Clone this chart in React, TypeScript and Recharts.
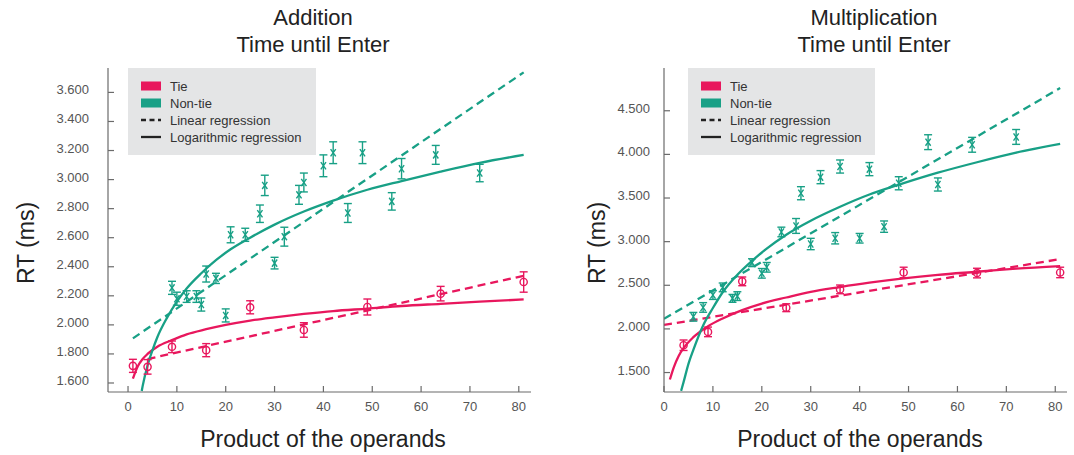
import React from "react";
import { ComposedChart, Line, Scatter, XAxis, YAxis, ErrorBar } from "recharts";

const RED = "#e8175d";
const GREEN = "#18a086";
const AXIS = "#6b6b6b";
const FONT = '"Liberation Sans", Arial, sans-serif';

// ---- Addition: Time until Enter ----
const addTieX = [1, 4, 9, 16, 25, 36, 49, 64, 81];
const addTieRT = [1718, 1711, 1849, 1826, 2121, 1965, 2123, 2215, 2295];
const addTieErr = [45, 50, 40, 45, 45, 50, 55, 50, 70];

const addNonTieX = [9, 10, 12, 14, 15, 16, 18, 20, 21, 24, 27, 28, 30, 32, 35, 36, 40, 42, 45, 48, 54, 56, 63, 72];
const addNonTieRT = [2255, 2180, 2195, 2195, 2140, 2350, 2320, 2065, 2620, 2620, 2765, 2960, 2425, 2607, 2895, 2980, 3095, 3185, 2770, 3185, 2850, 3075, 3170, 3045];
const addNonTieErr = [45, 45, 40, 40, 45, 55, 35, 45, 55, 45, 60, 70, 40, 65, 65, 65, 75, 75, 65, 75, 60, 70, 65, 60];

const addTieLinX = [4, 81];
const addTieLinY = [1765, 2338];
const addNonTieLinX = [1, 81];
const addNonTieLinY = [1907, 3738];

const addTieLogX = [1, 2, 3, 4, 6, 9, 12, 16, 20, 25, 30, 36, 42, 49, 56, 64, 72, 81];
const addTieLogY = [1630, 1715, 1765, 1800, 1850, 1895, 1935, 1970, 2000, 2030, 2052, 2075, 2095, 2112, 2130, 2145, 2160, 2175];
const addNonTieLogX = [2.8, 3, 4, 5, 6, 8, 10, 12, 15, 18, 21, 25, 30, 36, 42, 49, 56, 64, 72, 81];
const addNonTieLogY = [1545, 1580, 1720, 1825, 1915, 2050, 2160, 2250, 2355, 2445, 2520, 2600, 2690, 2780, 2855, 2930, 2990, 3055, 3115, 3170];

const addYTicks = [1600, 1800, 2000, 2200, 2400, 2600, 2800, 3000, 3200, 3400, 3600];

// ---- Multiplication: Time until Enter ----
const mulTieX = [4, 9, 16, 25, 36, 49, 64, 81];
const mulTieRT = [1813, 1966, 2545, 2243, 2453, 2647, 2640, 2647];
const mulTieErr = [60, 55, 50, 45, 50, 60, 55, 60];

const mulNonTieX = [6, 8, 10, 12, 14, 15, 18, 20, 21, 24, 27, 28, 30, 32, 35, 36, 40, 42, 45, 48, 54, 56, 63, 72];
const mulNonTieRT = [2139, 2246, 2388, 2476, 2350, 2376, 2759, 2637, 2706, 3111, 3180, 3555, 2973, 3739, 3039, 3861, 3039, 3831, 3172, 3669, 4140, 3655, 4110, 4200];
const mulNonTieErr = [50, 55, 50, 50, 45, 50, 45, 55, 55, 55, 85, 75, 65, 75, 65, 75, 55, 75, 65, 75, 85, 75, 85, 85];

const mulTieLinX = [0, 81];
const mulTieLinY = [2045, 2800];
const mulNonTieLinX = [0, 81];
const mulNonTieLinY = [2115, 4760];

const mulTieLogX = [1.2, 2, 3, 4, 6, 9, 12, 16, 20, 25, 30, 36, 42, 49, 56, 64, 72, 81];
const mulTieLogY = [1420, 1560, 1690, 1780, 1905, 2030, 2120, 2215, 2290, 2360, 2425, 2480, 2530, 2580, 2620, 2655, 2690, 2720];
const mulNonTieLogX = [3.5, 4, 5, 6, 8, 10, 12, 15, 18, 21, 25, 30, 36, 42, 49, 56, 64, 72, 81];
const mulNonTieLogY = [1290, 1390, 1600, 1760, 2040, 2240, 2420, 2620, 2780, 2920, 3080, 3240, 3400, 3540, 3670, 3790, 3910, 4020, 4120];

const mulYTicks = [1500, 2000, 2500, 3000, 3500, 4000, 4500];

const xTicks = [0, 10, 20, 30, 40, 50, 60, 70, 80];
const legendItems = ["Tie", "Non-tie", "Linear regression", "Logarithmic regression"];

type Pt = { x: number; y: number; err?: number };

const toPts = (xs: number[], ys: number[], errs?: number[]): Pt[] =>
  xs.map((x, i) => ({ x, y: ys[i], err: errs ? errs[i] : undefined }));

const fmt = (v: number) => String(v).replace(/\B(?=(\d{3})+(?!\d))/g, ".");

const circleShape = (props: any) => (
  <circle cx={props.cx} cy={props.cy} r={3.6} fill="none" stroke={RED} strokeWidth={1.4} />
);

const crossShape = (props: any) => {
  const { cx, cy } = props;
  return (
    <path
      d={`M${cx - 2.6},${cy - 3.6}L${cx + 2.6},${cy + 3.6}M${cx + 2.6},${cy - 3.6}L${cx - 2.6},${cy + 3.6}`}
      stroke={GREEN}
      strokeWidth={1.4}
      fill="none"
    />
  );
};

interface PanelProps {
  left: number;
  width: number;
  plotLeft: number;
  plotRight: number;
  xDomain: [number, number];
  yDomain: [number, number];
  yTicks: number[];
  labelGap: number;
  title: string;
  titleX: number;
  xLabelX: number;
  yLabelX: number;
  legendX: number;
  legendW: number;
  tie: Pt[];
  nonTie: Pt[];
  tieLin: Pt[];
  nonTieLin: Pt[];
  tieLog: Pt[];
  nonTieLog: Pt[];
}

function Panel(p: PanelProps) {
  const xTick = (props: any) => {
    const { x, y, payload } = props;
    return (
      <g>
        <line x1={x} y1={y} x2={x} y2={y - 6} stroke={AXIS} strokeWidth={1.2} />
        <text x={x} y={y + 19} textAnchor="middle" fontSize={13} fill="#555" fontFamily={FONT}>
          {payload.value}
        </text>
      </g>
    );
  };

  const yTick = (props: any) => {
    const { x, y, payload } = props;
    return (
      <g>
        <line x1={x} y1={y} x2={x + 6} y2={y} stroke={AXIS} strokeWidth={1.2} />
        <text x={x - p.labelGap} y={y + 2} textAnchor="end" fontSize={13} fill="#555" fontFamily={FONT}>
          {fmt(payload.value)}
        </text>
      </g>
    );
  };

  const rowY = [18, 35, 52, 69];

  return (
    <div style={{ position: "absolute", left: p.left, top: 0, width: p.width, height: 455 }}>
      <ComposedChart
        width={p.width}
        height={455}
        margin={{ top: 68, right: p.width - p.plotRight, bottom: 33, left: p.plotLeft - 60 }}
      >
        <XAxis
          type="number"
          dataKey="x"
          domain={p.xDomain}
          ticks={xTicks}
          interval={0}
          allowDataOverflow
          height={30}
          tickSize={0}
          tickMargin={0}
          tickLine={false}
          axisLine={{ stroke: AXIS, strokeWidth: 1.2 }}
          tick={xTick}
        />
        <YAxis
          type="number"
          dataKey="y"
          domain={p.yDomain}
          ticks={p.yTicks}
          interval={0}
          allowDataOverflow
          width={60}
          tickSize={0}
          tickMargin={0}
          tickLine={false}
          axisLine={{ stroke: AXIS, strokeWidth: 1.2 }}
          tick={yTick}
        />
        <Line data={p.tieLin} dataKey="y" type="linear" stroke={RED} strokeWidth={2.3} strokeDasharray="8 5" dot={false} activeDot={false} isAnimationActive={false} />
        <Line data={p.nonTieLin} dataKey="y" type="linear" stroke={GREEN} strokeWidth={2.3} strokeDasharray="8 5" dot={false} activeDot={false} isAnimationActive={false} />
        <Line data={p.tieLog} dataKey="y" type="monotone" stroke={RED} strokeWidth={2.3} dot={false} activeDot={false} isAnimationActive={false} />
        <Line data={p.nonTieLog} dataKey="y" type="monotone" stroke={GREEN} strokeWidth={2.3} dot={false} activeDot={false} isAnimationActive={false} />
        <Scatter data={p.tie} dataKey="y" shape={circleShape} isAnimationActive={false}>
          <ErrorBar dataKey="err" direction="y" width={4} stroke={RED} strokeWidth={1.4} />
        </Scatter>
        <Scatter data={p.nonTie} dataKey="y" shape={crossShape} isAnimationActive={false}>
          <ErrorBar dataKey="err" direction="y" width={4} stroke={GREEN} strokeWidth={1.4} />
        </Scatter>
      </ComposedChart>

      <svg
        width={p.width}
        height={455}
        style={{ position: "absolute", left: 0, top: 0, pointerEvents: "none" }}
        fontFamily={FONT}
      >
        <text x={p.titleX} y={25} textAnchor="middle" fontSize={22} fill="#222">{p.title}</text>
        <text x={p.titleX} y={51.5} textAnchor="middle" fontSize={22} fill="#222">Time until Enter</text>
        <text x={p.xLabelX} y={447} textAnchor="middle" fontSize={23} fill="#222">Product of the operands</text>
        <text transform={`translate(${p.yLabelX},243) rotate(-90)`} textAnchor="middle" fontSize={23} fill="#222">RT (ms)</text>

        <g transform={`translate(${p.legendX},68)`}>
          <rect x={0} y={0} width={p.legendW} height={87} fill="#e4e5e6" />
          <rect x={13} y={rowY[0] - 4.5} width={20} height={9} fill={RED} />
          <rect x={13} y={rowY[1] - 4.5} width={20} height={9} fill={GREEN} />
          <line x1={13} y1={rowY[2]} x2={33} y2={rowY[2]} stroke="#222" strokeWidth={2.3} strokeDasharray="5 3.5" />
          <line x1={13} y1={rowY[3]} x2={33} y2={rowY[3]} stroke="#222" strokeWidth={2.3} />
          {legendItems.map((t, i) => (
            <text key={t} x={42} y={rowY[i] + 4.5} fontSize={13} fill="#333">{t}</text>
          ))}
        </g>
      </svg>
    </div>
  );
}

export default function App() {
  return (
    <div style={{ position: "absolute", left: 0, top: 0, width: 1074, height: 455, background: "#fff", fontFamily: FONT }}>
      <Panel
        left={0}
        width={540}
        plotLeft={108}
        plotRight={531}
        xDomain={[-4.1, 82.5]}
        yDomain={[1538, 3768]}
        yTicks={addYTicks}
        labelGap={19}
        title="Addition"
        titleX={313}
        xLabelX={323}
        yLabelX={34}
        legendX={128}
        legendW={188}
        tie={toPts(addTieX, addTieRT, addTieErr)}
        nonTie={toPts(addNonTieX, addNonTieRT, addNonTieErr)}
        tieLin={toPts(addTieLinX, addTieLinY)}
        nonTieLin={toPts(addNonTieLinX, addNonTieLinY)}
        tieLog={toPts(addTieLogX, addTieLogY)}
        nonTieLog={toPts(addNonTieLogX, addNonTieLogY)}
      />
      <Panel
        left={540}
        width={534}
        plotLeft={124}
        plotRight={527}
        xDomain={[0, 82.4]}
        yDomain={[1277, 4990]}
        yTicks={mulYTicks}
        labelGap={14}
        title="Multiplication"
        titleX={334}
        xLabelX={320}
        yLabelX={65}
        legendX={148}
        legendW={187}
        tie={toPts(mulTieX, mulTieRT, mulTieErr)}
        nonTie={toPts(mulNonTieX, mulNonTieRT, mulNonTieErr)}
        tieLin={toPts(mulTieLinX, mulTieLinY)}
        nonTieLin={toPts(mulNonTieLinX, mulNonTieLinY)}
        tieLog={toPts(mulTieLogX, mulTieLogY)}
        nonTieLog={toPts(mulNonTieLogX, mulNonTieLogY)}
      />
    </div>
  );
}
